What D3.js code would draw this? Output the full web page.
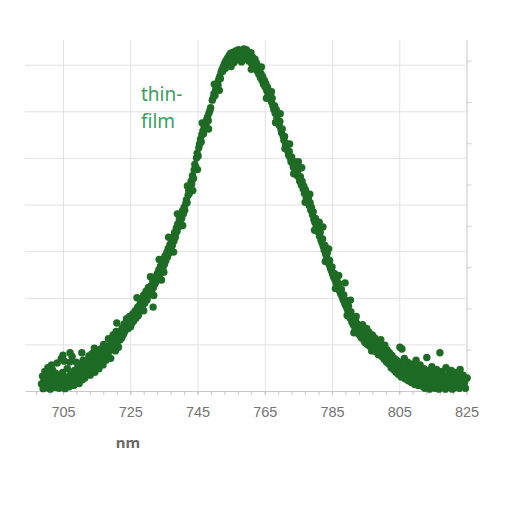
<!DOCTYPE html>
<html>
<head>
<meta charset="utf-8">
<script src="https://cdn.jsdelivr.net/npm/d3@7"></script>
<style>
  html, body { margin: 0; padding: 0; background: #fff; }
  svg { display: block; }
</style>
</head>
<body>
<svg id="chart"></svg>
<script>
// Tick values
const xMajorTicks = [705, 725, 745, 765, 785, 805, 825];
const xMinorTicks = d3.range(697, 826, 4);
const yGridTicks = [1, 2, 3, 4, 5, 6, 7];
const yRightTicks = [1, 2, 3, 4, 5, 6, 7, 8];
const seriesLabel = ['thin-', 'film'];
const xTitle = 'nm';

// Spectrum points [wavelength nm, intensity] estimated from the scatter
const thinFilmPoints = [
  // left tail
  [698.6,0.15],[698.9,0.32],[699.1,0.05],[699.3,0.22],[699.6,0.42],[699.8,0.10],[700.0,0.28],[700.3,0.07],[700.5,0.50],[700.7,0.18],
  [701.0,0.35],[701.2,0.04],[701.4,0.24],[701.6,0.56],[701.7,0.12],[701.9,0.45],[702.1,0.30],[702.4,0.08],[702.6,0.20],[702.8,0.38],
  [703.1,0.14],[703.3,0.60],[703.5,0.26],[703.8,0.06],[704.0,0.33],[704.2,0.18],[704.5,0.70],[704.7,0.10],[704.9,0.40],[705.0,0.77],
  [705.2,0.22],[705.4,0.64],[705.6,0.05],[705.9,0.30],[706.1,0.15],[706.3,0.48],[706.6,0.26],[706.8,0.09],[707.0,0.62],[707.1,0.82],
  [707.3,0.36],[707.5,0.18],[707.7,0.74],[708.0,0.28],[708.2,0.12],[708.4,0.44],[708.7,0.32],[708.9,0.62],[709.1,0.20],[709.4,0.50],
  [709.6,0.38],[709.8,0.16],[710.1,0.58],[710.3,0.30],[710.5,0.46],[710.6,0.82],[710.8,0.24],[711.0,0.66],[711.2,0.40],[711.5,0.28],
  [711.7,0.54],[712.0,0.36],
  // lower rise
  [712.2,0.62],[712.4,0.42],[712.7,0.75],[712.9,0.50],[713.1,0.34],[713.4,0.66],[713.6,0.80],[713.8,0.48],[714.1,0.58],[714.3,0.92],
  [714.5,0.40],[714.8,0.70],[715.0,0.55],[715.2,0.84],[715.5,0.62],[715.7,0.48],[715.9,0.76],[716.2,0.90],[716.4,0.64],[716.6,0.80],
  [716.9,0.56],[717.1,1.00],[717.3,0.72],[717.6,0.86],[717.8,0.66],[718.0,0.95],[718.3,0.78],[718.5,1.12],[718.7,0.84],[719.0,0.98],
  [719.2,0.70],[719.4,1.05],[719.7,0.90],[719.9,1.20],[720.1,0.96],[720.4,1.08],[720.6,0.86],[720.8,1.28],[721.0,1.46],[721.1,1.02],
  [721.3,1.16],[721.5,0.94],[721.8,1.24],[722.0,1.10],
  [722.3,1.30],[722.5,1.14],[722.7,1.36],[723.0,1.22],[723.2,1.44],[723.4,1.28],[723.7,1.38],[723.9,1.55],[724.1,1.50],[724.4,1.34],
  [724.6,1.42],[724.8,1.60],[725.1,1.38],[725.3,1.52],[725.5,1.46],[725.8,1.66],[726.0,1.50],[726.2,1.58],[726.5,1.72],[726.7,1.56],
  [726.9,1.68],[727.2,1.80],[727.4,1.62],[727.6,1.74],[727.9,1.86],[728.1,1.72],[728.3,1.96],[728.6,1.82],[728.8,1.90],[729.0,2.06],
  [729.3,1.88],[729.5,2.00],[729.7,2.14],[730.0,1.96],[730.2,2.10],[730.4,2.22],[730.7,2.06],[730.9,2.18],[731.8,1.80],
  [727.0,2.00],[729.0,1.72],[731.0,2.45],[732.0,2.05],
  // steep rise
  [731.2,2.26],[731.4,2.12],[731.7,2.34],[731.9,2.22],[732.1,2.40],[732.4,2.30],[732.6,2.46],[732.8,2.36],[733.1,2.52],[733.3,2.42],
  [733.5,2.60],[733.8,2.50],[734.0,2.68],[734.2,2.56],[734.5,2.74],[734.7,2.64],[734.9,2.84],[735.2,2.72],[735.4,2.90],[735.6,2.80],
  [735.9,2.98],[736.1,2.88],[736.3,3.06],[736.6,2.96],[736.8,3.14],[737.0,3.04],[737.3,3.20],[737.5,3.12],[737.7,3.30],[738.0,3.22],
  [738.2,3.40],[738.4,3.30],[738.7,3.50],[738.9,3.42],[739.1,3.58],[739.4,3.52],[739.6,3.68],[739.8,3.60],[740.1,3.76],[740.3,3.70],
  [740.5,3.86],[740.8,3.80],[741.0,3.94],[741.2,3.88],[741.5,4.02],[741.7,4.10],[741.9,4.04],[742.2,4.20],[742.4,4.30],[742.6,4.24],
  [733.6,2.82],[735.0,2.55],[736.4,3.30],[737.9,2.98],[739.0,3.80],[740.6,3.55],[742.0,4.40],[734.3,2.38],
  [742.9,4.36],[743.1,4.50],[743.3,4.44],[743.5,4.62],[743.8,4.56],[744.0,4.74],[744.2,4.86],[744.5,4.80],[744.7,5.00],[744.9,5.10],
  [745.2,5.04],[745.4,5.22],[745.6,5.30],[745.9,5.40],[746.1,5.34],[746.3,5.50],[746.6,5.58],[746.8,5.52],[747.0,5.66],[747.3,5.74],
  [747.5,5.70],[747.7,5.82],[748.0,5.88],[748.2,5.80],[748.4,5.96],[748.7,6.02],[748.9,6.08],
  [743.6,4.30],[745.0,4.75],[746.4,5.75],[748.3,5.62],
  [749.4,6.24],[749.7,6.30],[749.9,6.38],[750.2,6.34],[750.4,6.46],[750.6,6.52],[750.9,6.60],[751.1,6.56],[751.3,6.68],[751.6,6.74],
  [751.8,6.70],[752.0,6.84],[752.3,6.90],[752.5,6.86],[752.7,6.96],[753.0,7.02],[750.0,6.58],[751.5,6.45],
  // peak
  [753.2,6.92],[753.4,7.08],[753.7,6.98],[753.9,7.14],[754.1,7.04],[754.4,7.20],[754.6,7.08],[754.8,7.24],[755.1,7.12],[755.3,7.26],
  [755.5,7.16],[755.8,7.04],[756.0,7.28],[756.2,7.18],[756.5,7.30],[756.7,7.10],[756.9,7.24],[757.2,7.32],[757.4,7.16],[757.6,7.28],
  [757.9,7.22],[758.1,7.06],[758.3,7.30],[758.6,7.20],[758.8,7.34],[759.0,7.14],[759.3,7.26],[759.5,7.32],[759.7,7.18],[760.0,7.28],
  [760.2,7.08],[760.4,7.22],[760.7,7.14],[760.9,7.26],[761.1,7.02],[761.4,7.16],[761.6,7.10],[761.8,6.98],[762.1,7.12],[762.3,6.94],
  [762.5,7.04],[762.8,6.86],[763.0,6.96],[755.0,6.96],[761.0,6.90],
  // fall
  [763.2,6.80],[763.5,6.88],[763.7,6.72],[763.9,6.80],[764.2,6.66],[764.4,6.74],[764.6,6.58],[764.9,6.66],[765.1,6.52],[765.3,6.60],
  [765.6,6.44],[765.8,6.52],[766.0,6.36],[766.3,6.44],[766.5,6.28],[766.7,6.36],[767.0,6.20],[767.2,6.28],[767.4,6.12],[767.7,6.04],
  [767.9,6.12],[768.1,5.96],[768.4,6.04],[768.6,5.86],[768.8,5.94],[769.1,5.78],[769.3,5.70],[769.5,5.78],[769.8,5.62],[770.0,5.54],
  [770.2,5.62],[770.5,5.46],[770.7,5.38],[770.9,5.46],[771.2,5.30],[771.4,5.22],[771.6,5.30],[771.9,5.14],[772.1,5.06],[772.3,5.14],
  [772.6,5.00],[772.8,4.92],[773.0,5.02],[773.3,4.88],[773.5,4.80],[773.8,4.92],[774.0,4.76],[774.2,4.84],[774.5,4.70],[774.7,4.62],
  [774.9,4.74],[775.2,4.58],[775.4,4.50],[775.6,4.60],[776.0,4.79],
  [764.0,6.95],[765.5,6.28],[767.0,6.42],[768.2,5.76],[769.6,5.95],[771.0,5.20],[772.4,5.30],[773.6,4.66],[775.0,4.92],
  [775.9,4.42],[776.1,4.50],[776.4,4.34],[776.6,4.40],[776.8,4.24],[777.1,4.32],[777.3,4.16],[777.5,4.24],[777.8,4.08],[778.0,4.14],
  [778.2,3.98],[778.5,4.04],[778.7,3.88],[778.9,3.94],[779.2,3.78],[779.4,3.84],[779.6,3.68],[779.9,3.62],[780.1,3.70],[780.3,3.54],
  [780.6,3.48],[780.8,3.56],[781.0,3.40],[781.3,3.32],[781.5,3.40],[781.7,3.24],[782.0,3.18],[782.2,3.26],[782.3,3.52],[782.4,3.10],
  [782.7,3.02],[782.9,3.12],[783.1,2.94],[783.4,2.88],[783.6,2.96],[783.8,2.80],[784.1,2.72],[784.3,2.80],[784.5,2.64],[784.8,2.58],
  [785.0,2.66],[785.2,2.50],[785.5,2.44],[785.7,2.52],[785.9,2.38],[786.2,2.32],[786.4,2.40],[786.6,2.26],[786.9,2.20],[787.1,2.30],
  [787.3,2.14],[787.6,2.08],[787.8,2.18],[788.0,2.02],[788.3,1.96],[788.5,2.06],[788.7,1.90],[788.9,2.32],[789.0,1.84],[789.2,1.94],
  [789.4,1.78],[789.7,1.72],[789.9,1.82],
  [777.0,4.05],[778.4,4.22],[779.8,3.45],[781.2,3.62],[783.0,2.78],[784.0,3.05],[786.0,2.20],[787.0,2.48],[789.5,1.62],
  // lower fall
  [790.2,1.66],[790.4,1.56],[790.6,1.70],[790.9,1.48],[791.1,1.60],[791.3,1.42],[791.6,1.54],[791.8,1.36],[792.0,1.50],[792.3,1.30],
  [792.5,1.44],[792.7,1.24],[793.0,1.38],[793.2,1.20],[793.4,1.32],[793.7,1.14],[793.9,1.28],[794.1,1.42],[794.4,1.10],[794.6,1.22],
  [794.8,1.04],[795.1,1.18],[795.3,1.34],[795.5,1.00],[795.8,1.12],[796.0,1.26],[796.2,0.96],[796.5,1.08],[796.8,0.86],[797.0,1.20],
  [797.2,1.02],[797.4,0.90],[797.7,1.14],[797.9,0.98],[798.1,0.84],[798.4,1.06],[798.6,0.92],[798.8,0.78],[799.1,1.00],[799.3,0.86],
  [799.5,1.10],[799.8,0.74],[800.0,0.94],[800.2,0.82],[800.5,0.68],[800.7,0.98],[800.9,0.78],[801.2,0.62],[801.4,0.88],[801.6,0.72],
  [801.9,0.58],[802.1,0.82],[802.3,0.66],[802.6,0.50],[802.8,0.76],[803.0,0.60],[803.3,0.46],[803.5,0.70],[803.7,0.56],[804.0,0.40],
  [804.2,0.66],[804.4,0.50],[804.7,0.36],[804.9,0.62],[805.2,0.94],[805.4,0.46],[805.6,0.30],[805.8,0.90],[806.1,0.56],[806.3,0.40],
  [806.5,0.70],[806.8,0.26],[807.0,0.50],[807.2,0.36],[807.5,0.62],[807.7,0.22],[807.9,0.44],[808.2,0.32],[808.4,0.58],[808.6,0.18],
  [808.9,0.40],[809.1,0.28],[809.3,0.52],[809.6,0.14],[809.8,0.36],[810.0,0.66],[810.3,0.24],[810.5,0.46],[810.7,0.12],[811.0,0.32],
  [811.2,0.56],[811.4,0.20],[811.7,0.40],[811.9,0.10],[790.5,1.95],[792.2,1.60],[791.5,1.25],
  // right tail
  [812.1,0.30],[812.4,0.48],[812.6,0.06],[812.8,0.22],[813.1,0.38],[813.2,0.72],[813.3,0.12],[813.5,0.28],[813.8,0.44],[814.0,0.04],
  [814.2,0.18],[814.5,0.34],[814.7,0.52],[814.9,0.10],[815.2,0.26],[815.4,0.40],[815.6,0.06],[815.9,0.20],[816.1,0.46],[816.3,0.14],
  [816.6,0.30],[816.8,0.04],[817.0,0.36],[817.1,0.82],[817.3,0.18],[817.5,0.08],[817.7,0.42],[818.0,0.24],[818.2,0.12],[818.4,0.32],
  [818.7,0.04],[818.9,0.50],[819.1,0.16],[819.4,0.28],[819.6,0.08],[819.8,0.38],[820.1,0.20],[820.3,0.12],[820.5,0.44],[820.8,0.04],
  [821.0,0.26],[821.2,0.16],[821.5,0.34],[821.7,0.08],[821.9,0.22],[822.2,0.40],[822.4,0.12],[822.6,0.30],[822.9,0.06],[823.1,0.46],
  [823.3,0.18],[823.6,0.26],[823.8,0.10],[824.0,0.34],[824.3,0.16],[824.5,0.22],[824.7,0.06],[825.2,0.28]
];

const width = 510;
const height = 510;
const plot = {left: 25, right: 466.5, top: 40, bottom: 391};

const svg = d3.select('#chart')
  .attr('width', width)
  .attr('height', height)
  .style('font-family', '"Noto Sans", "Open Sans", sans-serif');

// Scales
const x = d3.scaleLinear().domain([693.7, 825]).range([plot.left, plot.right]);
const y = d3.scaleLinear().domain([0, 7.53]).range([plot.bottom, plot.top]);
const yRight = d3.scaleLinear().domain([0, 8.5]).range([plot.bottom, plot.top]);

// Horizontal grid
svg.append('g')
  .attr('class', 'grid y')
  .attr('transform', `translate(${plot.left},0)`)
  .call(d3.axisLeft(y).tickValues(yGridTicks).tickSize(-(plot.right - plot.left)).tickFormat(''))
  .call(g => g.select('.domain').remove())
  .call(g => g.selectAll('line').attr('stroke', '#e2e2e2'));

// Vertical grid
svg.append('g')
  .attr('class', 'grid x')
  .attr('transform', `translate(0,${plot.bottom})`)
  .call(d3.axisBottom(x).tickValues(xMajorTicks).tickSize(-(plot.bottom - plot.top)).tickFormat(''))
  .call(g => g.select('.domain').remove())
  .call(g => g.selectAll('line').attr('stroke', '#e2e2e2'));

// Right axis with unlabeled ticks
svg.append('g')
  .attr('class', 'y-right axis')
  .attr('transform', `translate(${plot.right},0)`)
  .call(d3.axisRight(yRight).tickValues(yRightTicks).tickSize(5).tickSizeOuter(0).tickFormat(''))
  .call(g => g.select('.domain').attr('stroke', '#d6d6d6'))
  .call(g => g.selectAll('line').attr('stroke', '#d0d0d0'));

// Minor ticks on the x axis
svg.append('g')
  .attr('class', 'x minor')
  .attr('transform', `translate(0,${plot.bottom})`)
  .call(d3.axisBottom(x).tickValues(xMinorTicks).tickSize(4).tickFormat(''))
  .call(g => g.select('.domain').remove())
  .call(g => g.selectAll('line').attr('stroke', '#c8c8c8'));

// X axis
svg.append('g')
  .attr('class', 'x axis')
  .attr('transform', `translate(0,${plot.bottom})`)
  .call(d3.axisBottom(x).tickValues(xMajorTicks).tickSize(4).tickSizeOuter(0).tickPadding(12).tickFormat(d3.format('d')))
  .call(g => g.select('.domain').attr('stroke', '#c8c8c8'))
  .call(g => g.selectAll('line').attr('stroke', '#c8c8c8'))
  .call(g => g.selectAll('text')
    .attr('fill', '#747474')
    .style('font-size', '14.5px'));

// Points
svg.append('g')
  .attr('class', 'points')
  .selectAll('circle')
  .data(thinFilmPoints)
  .join('circle')
    .attr('cx', d => x(d[0]))
    .attr('cy', d => y(d[1]))
    .attr('r', 3.7)
    .attr('fill', '#1e6b25');

// Series label
svg.append('text')
  .attr('x', 141)
  .attr('y', 101)
  .attr('fill', '#3e9c5e')
  .style('font-size', '19px')
  .selectAll('tspan')
  .data(seriesLabel)
  .join('tspan')
    .attr('x', 141)
    .attr('dy', (d, i) => i === 0 ? 0 : 27)
    .text(d => d);

// X axis title
svg.append('text')
  .attr('x', 128)
  .attr('y', 448)
  .attr('text-anchor', 'middle')
  .attr('fill', '#6a6a6a')
  .style('font-size', '15px')
  .style('font-weight', 'bold')
  .text(xTitle);
</script>
</body>
</html>
